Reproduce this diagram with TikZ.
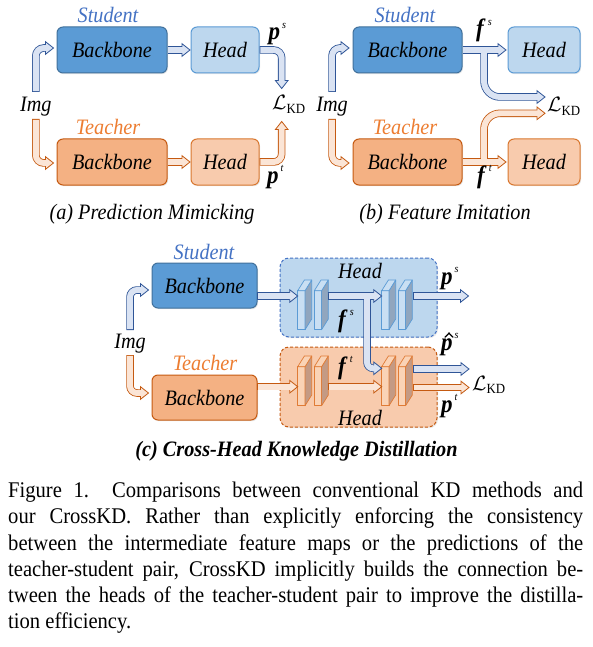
\documentclass[tikz,border=0pt]{standalone}
\usepackage{fontspec}
\setmainfont{Liberation Serif}[FakeStretch=0.92]
\usepackage{amsmath}
\usetikzlibrary{calc,shadows}
\definecolor{sBBf}{HTML}{5B9BD5}
\definecolor{sBBd}{HTML}{41719C}
\definecolor{sHf}{HTML}{BDD7EE}
\definecolor{sHd}{HTML}{5B9BD5}
\definecolor{tBBf}{HTML}{F4B183}
\definecolor{tBBd}{HTML}{C55A11}
\definecolor{tHf}{HTML}{F8CBAD}
\definecolor{tHd}{HTML}{D9772F}
\definecolor{sLab}{HTML}{4472C4}
\definecolor{tLab}{HTML}{ED7D31}
\definecolor{bD}{HTML}{2F5597}
\definecolor{bL}{HTML}{DAE3F3}
\definecolor{oD}{HTML}{C55A11}
\definecolor{oL}{HTML}{FBE5D6}
\definecolor{sDd}{HTML}{4472C4}
\definecolor{tDd}{HTML}{C55A11}
\definecolor{sCf}{HTML}{C9DFF3}
\definecolor{sCs}{HTML}{91A6BE}
\definecolor{sCd}{HTML}{5B9BD5}
\definecolor{tCf}{HTML}{FAD3B6}
\definecolor{tCs}{HTML}{C49A84}
\definecolor{tCd}{HTML}{E07B35}
% block arrow: #1 dark, #2 light, #3 path to tip, #4 tip, #5 angle
\newcommand{\barrow}[5]{%
  \draw[line width=7.5pt, color=#1, shorten >=8pt] #3;
  \filldraw[draw=#1, fill=#2, line width=0.8pt, line join=miter, shift={#4}, rotate=#5] (0,0) -- (-8,6.3) -- (-8,-6.3) -- cycle;
  \draw[line width=5.9pt, color=#2, shorten <=0.8pt, shorten >=6pt] #3;
}
\newcommand{\bfillpath}[2]{\draw[line width=5.9pt, color=#1, shorten <=0.8pt, shorten >=6pt] #2;}
% feature block: #1,#2 front top-left, #3 front fill, #4 side fill, #5 draw
\newcommand{\cub}[5]{%
  \begin{scope}[shift={(#1,#2)}, line width=0.7pt, line join=round]
    \filldraw[fill=#3, draw=#5] (0,0) rectangle (7.3,39);
    \filldraw[fill=#4, draw=#5] (7.3,0) -- (14,-10.7) -- (14,28.3) -- (7.3,39) -- cycle;
    \filldraw[fill=#3, draw=#5] (0,0) -- (6.7,-10.7) -- (14,-10.7) -- (7.3,0) -- cycle;
  \end{scope}}
\newcommand{\plab}[3]{{\fontsize{25}{25}\selectfont\bfseries\itshape #1}\kern#3\raisebox{11.5pt}{\fontsize{11}{11}\selectfont\mdseries\itshape #2}}
\newcommand{\LKD}{{\fontsize{20}{20}\selectfont$\mathcal{L}_{\text{\upshape KD}}$}}
\begin{document}
\begin{tikzpicture}[x=1pt,y=-1pt,font=\fontsize{22}{26}\selectfont\itshape,
  bx/.style={rounded corners=6pt, line width=1pt, inner sep=0pt,
    drop shadow={shadow xshift=1pt, shadow yshift=-1.2pt, opacity=0.18}},
  dbx/.style={rounded corners=9pt, line width=1pt, inner sep=0pt, dash pattern=on 3pt off 2pt,
    drop shadow={shadow xshift=1pt, shadow yshift=-1.2pt, opacity=0.18}},
  lab/.style={inner sep=0pt}]
\fill[white] (0,0) rectangle (592,647);
\useasboundingbox (0,0) rectangle (592,647);

% ---------------- (a) ----------------
\node[bx, fill=sBBf, draw=sBBd, minimum width=110pt, minimum height=46pt] (aSB) at (112,50) {Backbone};
\node[bx, fill=sHf, draw=sHd, minimum width=68pt, minimum height=46pt] (aSH) at (225,50) {Head};
\node[bx, fill=tBBf, draw=tBBd, minimum width=110pt, minimum height=46pt] (aTB) at (112,162) {Backbone};
\node[bx, fill=tHf, draw=tHd, minimum width=68pt, minimum height=46pt] (aTH) at (225,162) {Head};
\node[lab, text=sLab] (aSt) at (108,15) {Student};
\node[lab, text=tLab] (aTe) at (108,127) {Teacher};
\node[lab, anchor=base] (aImg) at (35.8,111.7) {Img};
\barrow{bD}{bL}{(35.8,92) [rounded corners=8pt] |- (53.5,48)}{(53.5,48)}{0}
\barrow{oD}{oL}{(35.8,119) [rounded corners=8pt] |- (53.5,163)}{(53.5,163)}{0}
\barrow{bD}{bL}{(aSB.east) -- (190,50)}{(190,50)}{0}
\barrow{oD}{oL}{(aTB.east) -- (190,162)}{(190,162)}{0}
\barrow{bD}{bL}{(aSH.east) [rounded corners=8pt] -| (281.7,88.5)}{(281.7,88.5)}{-90}
\barrow{oD}{oL}{(aTH.east) [rounded corners=8pt] -| (281.7,121.5)}{(281.7,121.5)}{90}
\node[lab, anchor=base west] (aps) at (268.5,40) {\plab{p}{s}{2pt}};
\node[lab, anchor=base west] (apt) at (267,183) {\plab{p}{t}{2pt}};
\node[lab, anchor=base west] (aL) at (272,110) {\LKD};
\node[lab, anchor=base] (acap) at (152,219) {(a) Prediction Mimicking};

% ---------------- (b) ----------------
\node[bx, fill=sBBf, draw=sBBd, minimum width=109pt, minimum height=46pt] (bSB) at (407.5,50) {Backbone};
\node[bx, fill=sHf, draw=sHd, minimum width=72pt, minimum height=46pt] (bSH) at (544,50) {Head};
\node[bx, fill=tBBf, draw=tBBd, minimum width=109pt, minimum height=46pt] (bTB) at (407.5,162) {Backbone};
\node[bx, fill=tHf, draw=tHd, minimum width=72pt, minimum height=46pt] (bTH) at (544,162) {Head};
\node[lab, text=sLab] (bSt) at (405,15) {Student};
\node[lab, text=tLab] (bTe) at (405,127) {Teacher};
\node[lab, anchor=base] (bImg) at (332,111.7) {Img};
\barrow{bD}{bL}{(332,92) [rounded corners=8pt] |- (349,48)}{(349,48)}{0}
\barrow{oD}{oL}{(332,119) [rounded corners=8pt] |- (349,163)}{(349,163)}{0}
\barrow{bD}{bL}{(bSB.east) -- (506,50)}{(506,50)}{0}
\barrow{bD}{bL}{(484,50) [rounded corners=16pt] |- (545,97)}{(545,97)}{0}
\bfillpath{bL}{(bSB.east) -- (506,50)}
\barrow{oD}{oL}{(bTB.east) -- (506,162)}{(506,162)}{0}
\barrow{oD}{oL}{(484,162) [rounded corners=16pt] |- (545,113.3)}{(545,113.3)}{0}
\bfillpath{oL}{(bTB.east) -- (506,162)}
\node[lab, anchor=base west] (bfs) at (476,37) {\plab{f}{s}{4pt}};
\node[lab, anchor=base west] (bft) at (477,183) {\plab{f}{t}{4pt}};
\node[lab, anchor=base west] (bL) at (547,112) {\LKD};
\node[lab, anchor=base] (bcap) at (445,219) {(b) Feature Imitation};

% ---------------- (c) ----------------
\node[dbx, fill=sHf, draw=sDd, minimum width=157pt, minimum height=79pt] (cSH) at (358.5,297.5) {};
\node[dbx, fill=tHf, draw=tDd, minimum width=157pt, minimum height=80pt] (cTH) at (358.5,387) {};
\node[lab] (cSHl) at (360,271) {Head};
\node[lab] (cTHl) at (360,417.5) {Head};
\node[bx, fill=sBBf, draw=sBBd, minimum width=105pt, minimum height=45pt] (cSB) at (204.5,285.5) {Backbone};
\node[bx, fill=tBBf, draw=tBBd, minimum width=105pt, minimum height=45pt] (cTB) at (204.5,397.5) {Backbone};
\node[lab, text=sLab] (cSt) at (204,251.7) {Student};
\node[lab, text=tLab] (cTe) at (205,363) {Teacher};
\node[lab, anchor=base] (cImg) at (130,348) {Img};
\cub{297.7}{290.7}{sCf}{sCs}{sCd}
\cub{314.3}{290.7}{sCf}{sCs}{sCd}
\cub{381.7}{290.7}{sCf}{sCs}{sCd}
\cub{398.3}{290.7}{sCf}{sCs}{sCd}
\cub{297.7}{366.7}{tCf}{tCs}{tCd}
\cub{314.3}{366.7}{tCf}{tCs}{tCd}
\cub{381.7}{366.7}{tCf}{tCs}{tCd}
\cub{398.3}{366.7}{tCf}{tCs}{tCd}
\barrow{bD}{bL}{(130,330) [rounded corners=7pt] |- (148.5,290)}{(148.5,290)}{0}
\barrow{oD}{oL}{(130,355) [rounded corners=7pt] |- (148.5,393)}{(148.5,393)}{0}
\barrow{bD}{bL}{(257,296) -- (297.7,296)}{(297.7,296)}{0}
\barrow{bD}{bL}{(327.7,296) -- (381.7,296)}{(381.7,296)}{0}
\barrow{bD}{bL}{(367,296) [rounded corners=6pt] |- (381.7,368.3)}{(381.7,368.3)}{0}
\bfillpath{bL}{(327.7,296) -- (381.7,296)}
\barrow{bD}{bL}{(412.7,296) -- (468.5,296)}{(468.5,296)}{0}
\barrow{oD}{oL}{(257,386.7) -- (297.7,386.7)}{(297.7,386.7)}{0}
\barrow{oD}{oL}{(327.7,386.7) -- (381.7,386.7)}{(381.7,386.7)}{0}
\barrow{bD}{bL}{(412.7,369) -- (469,369)}{(469,369)}{0}
\barrow{oD}{oL}{(412.7,387.5) -- (469,387.5)}{(469,387.5)}{0}
\node[lab, anchor=base west] (cfs) at (338,327) {\plab{f}{s}{4pt}};
\node[lab, anchor=base west] (cft) at (338,374) {\plab{f}{t}{4pt}};
\node[lab, anchor=base west] (cps) at (441,284) {\plab{p}{s}{2pt}};
\node[lab, anchor=base west] (cphs) at (441,350) {\plab{p}{s}{2pt}};
% hat accent over p
\fill (444.3,337.2) -- (449,332.2) -- (453.7,337.2) -- (452.6,337.6) -- (449,334.2) -- (445.4,337.6) -- cycle;
\node[lab, anchor=base west] (cpt) at (441,412) {\plab{p}{t}{2pt}};
\node[lab, anchor=base west] (cL) at (472,390) {\LKD};
\node[lab, anchor=base] (ccap) at (296.5,456) {\bfseries (c) Cross-Head Knowledge Distillation};

% ---------------- caption ----------------
\node[lab, anchor=north west, text width=575pt, align=justify,
  font=\fontsize{22.4}{26.2}\selectfont\upshape] (fig) at (8,482) {\hyphenpenalty=10000
Figure 1.\ \ Comparisons between conventional KD methods and\linebreak
our CrossKD. Rather than explicitly enforcing the consistency\linebreak
between the intermediate feature maps or the predictions of the\linebreak
teacher-student pair, CrossKD implicitly builds the connection be-\linebreak
tween the heads of the teacher-student pair to improve the distilla-\linebreak
tion efficiency.};
\end{tikzpicture}
\end{document}
